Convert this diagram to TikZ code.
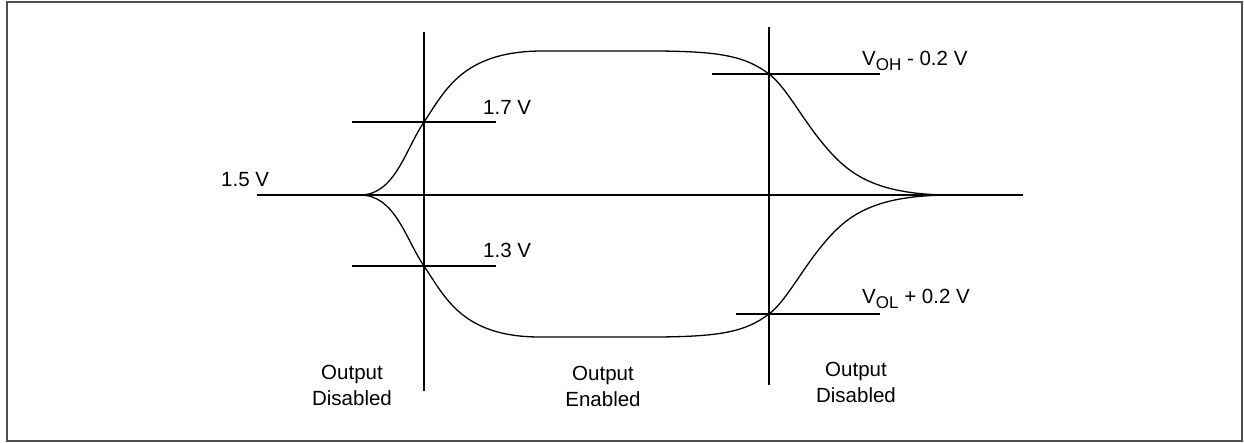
\documentclass[tikz,border=0pt]{standalone}
\usepackage{fontspec}
\setmainfont{Liberation Sans}
\definecolor{framegray}{HTML}{505050}
\newcommand{\subsc}[1]{\raisebox{-5pt}{\fontsize{17}{17}\selectfont #1}}
\begin{document}
\begin{tikzpicture}[x=1pt,y=-1pt,
  lbl/.style={inner sep=0pt, font=\fontsize{20.5}{26}\selectfont},
  trace/.style={line width=1.3pt, black},
  refline/.style={line width=1.3pt, black},
  boxline/.style={line width=2pt, draw=framegray}]
\useasboundingbox (0,0) rectangle (1244,442);
\draw[boxline] (7,2) rectangle (1242,441);

% horizontal 1.5 V reference
\coordinate (b0) at (257,195);
\coordinate (b1) at (1023,195);
\draw[refline] (b0) -- (b1);

% vertical markers
\coordinate (v1t) at (424,32);  \coordinate (v1b) at (424,391);
\coordinate (v2t) at (769,27);  \coordinate (v2b) at (769,385);
\draw[refline] (v1t) -- (v1b);
\draw[refline] (v2t) -- (v2b);

% threshold lines
\draw[refline] (352,122) -- (496,122);
\draw[refline] (352,266) -- (496,266);
\draw[refline] (712,74) -- (880,74);
\draw[refline] (736,314) -- (880,314);

% upper trace
\draw[trace] (360,195) .. controls (395,195) and (405,150) .. (424,122)
  .. controls (445,91) and (462,52) .. (540,51)
  -- (650,51)
  .. controls (720,51) and (745,56) .. (769,74)
  .. controls (785,86) and (800,115) .. (820,140)
  .. controls (845,171) and (870,195) .. (952,195);

% lower trace
\draw[trace] (360,195) .. controls (395,195) and (405,238) .. (424,266)
  .. controls (445,297) and (462,337) .. (540,337)
  -- (650,337)
  .. controls (720,337) and (745,332) .. (769,314)
  .. controls (785,302) and (800,273) .. (820,248)
  .. controls (845,217) and (870,195) .. (952,195);

% labels
\node[lbl, anchor=base west] (l15) at (221,186) {1.5 V};
\node[lbl, anchor=base west] (l17) at (483,114) {1.7 V};
\node[lbl, anchor=base west] (l13) at (483,257) {1.3 V};
\node[lbl, anchor=base west] (loh) at (862,65) {V\subsc{OH} - 0.2 V};
\node[lbl, anchor=base west] (lol) at (862,303) {V\subsc{OL} + 0.2 V};

\node[lbl, align=center, anchor=north] (d1) at (352,365) {Output\\Disabled};
\node[lbl, align=center, anchor=north] (en) at (603,366) {Output\\Enabled};
\node[lbl, align=center, anchor=north] (d2) at (856,362) {Output\\Disabled};
\end{tikzpicture}
\end{document}
